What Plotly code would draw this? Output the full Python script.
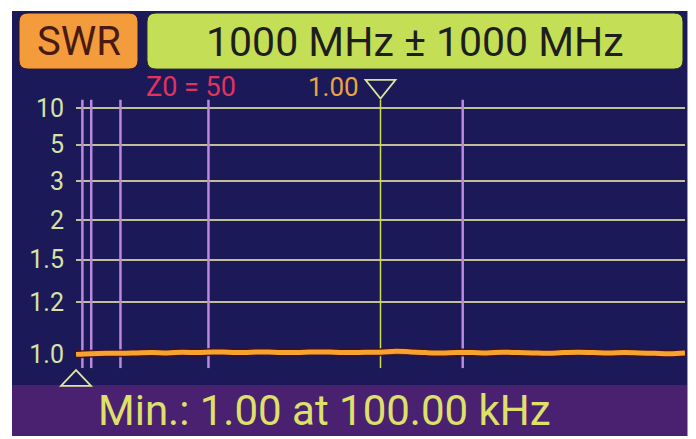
import numpy as np
import plotly.graph_objects as go

# ---------------- data ----------------
freq_mhz = [0.1, 50, 100, 150, 200, 250, 300, 350, 400, 450, 500, 550, 600, 650, 700,
            750, 800, 850, 900, 950, 1000, 1050, 1100, 1150, 1200, 1250, 1300, 1350,
            1400, 1450, 1500, 1550, 1600, 1650, 1700, 1750, 1800, 1850, 1900, 1950, 2000]
swr = [1.000, 1.002, 1.003, 1.003, 1.004, 1.005, 1.004, 1.006, 1.005, 1.007, 1.006,
       1.005, 1.007, 1.006, 1.005, 1.006, 1.007, 1.006, 1.005, 1.006, 1.006, 1.009,
       1.007, 1.005, 1.004, 1.005, 1.005, 1.004, 1.006, 1.005, 1.004, 1.003, 1.005,
       1.006, 1.005, 1.004, 1.005, 1.004, 1.003, 1.002, 1.004]
swr_ticks = [1.0, 1.2, 1.5, 2, 3, 5, 10]
swr_tick_labels = ["1.0", "1.2", "1.5", "2", "3", "5", "10"]
band_lines_mhz = [21, 50, 146, 435, 1270]
marker_freq = 1000
marker_label = "1.00"
min_freq = 0.1
center_span = "1000 MHz ± 1000 MHz"
status_text = "Min.: 1.00 at 100.00 kHz"
mode_text = "SWR"
z0_text = "Z0 = 50"

# ---------------- scale ----------------
def swr_scale(s):
    s = np.asarray(s, dtype=float)
    return np.log(1 + 3 * np.log(s))

# the page body has an 8px margin; lay out in page pixels and offset
OFF = 8
W, H = 696 - OFF, 439 - OFF
def px(x): return (x - OFF) / W
def py(y): return 1 - (y - OFF) / H

def rpath(x0, y0, x1, y1, r):
    pts = [("M", x0 + r, y0), ("L", x1 - r, y0), ("Q", x1, y0, x1, y0 + r),
           ("L", x1, y1 - r), ("Q", x1, y1, x1 - r, y1), ("L", x0 + r, y1),
           ("Q", x0, y1, x0, y1 - r), ("L", x0, y0 + r), ("Q", x0, y0, x0 + r, y0)]
    out = []
    for p in pts:
        s = p[0]
        c = p[1:]
        for i in range(0, len(c), 2):
            s += f" {px(c[i]):.5f},{py(c[i+1]):.5f}"
        out.append(s)
    return " ".join(out) + " Z"

NAVY = "#1b1957"
PURPLE = "#4a2170"
GREEN = "#c4de56"
ORANGE_BOX = "#f49c3c"
GRID = "#c2bf98"
BAND = "#bb8ade"
MARK = "#cfdc52"
TICKC = "#d6e2a6"
LINE = "#f7a330"

yr0, yr1 = -0.1157, 2.140
xr0, xr1 = 0, 2000
XD0, XD1 = px(76), px(685)

def fx_paper(f):
    return XD0 + (f - xr0) / (xr1 - xr0) * (XD1 - XD0)

fig = go.Figure()

# band lines
bx, by = [], []
for f in band_lines_mhz:
    bx += [f, f, None]
    by += [yr0, yr1, None]
fig.add_trace(go.Scatter(x=bx, y=by, mode="lines", line=dict(color=BAND, width=2.5),
                         hoverinfo="skip", showlegend=False))
# marker line
fig.add_trace(go.Scatter(x=[marker_freq, marker_freq], y=[yr0, yr1], mode="lines",
                         line=dict(color=MARK, width=1.5), hoverinfo="skip", showlegend=False))
# shadow + trace
fig.add_trace(go.Scatter(x=freq_mhz, y=swr_scale(swr), mode="lines",
                         line=dict(color="rgba(70,15,30,0.9)", width=8, shape="spline"),
                         hoverinfo="skip", showlegend=False))
fig.add_trace(go.Scatter(x=freq_mhz, y=swr_scale(swr), mode="lines",
                         line=dict(color=LINE, width=5, shape="spline"),
                         showlegend=False))

shapes = []
shapes.append(dict(type="rect", xref="paper", yref="paper", x0=px(12), x1=px(687),
                   y0=py(437), y1=py(5), fillcolor=NAVY, line=dict(width=0), layer="below"))
shapes.append(dict(type="rect", xref="paper", yref="paper", x0=px(687), x1=px(692),
                   y0=py(437), y1=py(5), fillcolor="#9a9aa0", line=dict(width=0), layer="below"))
shapes.append(dict(type="path", xref="paper", yref="paper", path=rpath(19, 7, 138, 64, 9),
                   fillcolor=ORANGE_BOX, line=dict(color="#2a1a30", width=1), layer="below"))
shapes.append(dict(type="path", xref="paper", yref="paper", path=rpath(147, 7, 683, 64, 9),
                   fillcolor=GREEN, line=dict(color="#2a2a30", width=1), layer="below"))
shapes.append(dict(type="rect", xref="paper", yref="paper", x0=px(12), x1=px(687),
                   y0=py(437), y1=py(385), fillcolor=PURPLE, line=dict(width=0), layer="below"))

hw = 15 / W
mx = fx_paper(marker_freq)
shapes.append(dict(type="path", xref="paper", yref="paper",
                   path=f"M {mx-hw:.5f},{py(75):.5f} L {mx+hw:.5f},{py(75):.5f} L {mx:.5f},{py(94):.5f} Z",
                   fillcolor=NAVY, line=dict(color="#d8e4a0", width=1.8), layer="above"))
nx = fx_paper(min_freq)
shapes.append(dict(type="path", xref="paper", yref="paper",
                   path=f"M {nx-hw:.5f},{py(386):.5f} L {nx+hw:.5f},{py(386):.5f} L {nx:.5f},{py(370):.5f} Z",
                   fillcolor=NAVY, line=dict(color="#e0e4a0", width=1.8), layer="above"))

annotations = [
    dict(text=mode_text, x=px(78.5), y=py(36), xref="paper", yref="paper", showarrow=False,
         xanchor="center", yanchor="middle", font=dict(family="Roboto", size=40, color="#4a1a12")),
    dict(text=center_span, x=px(415), y=py(36), xref="paper", yref="paper", showarrow=False,
         xanchor="center", yanchor="middle", font=dict(family="Roboto", size=41, color="#1e1e1e")),
    dict(text=z0_text, x=px(191), y=py(82), xref="paper", yref="paper", showarrow=False,
         xanchor="center", yanchor="middle", font=dict(family="Roboto", size=27, color="#e0335e")),
    dict(text=marker_label, x=mx, y=py(82), xref="paper", yref="paper", showarrow=False,
         xanchor="right", yanchor="middle", xshift=-20,
         font=dict(family="Roboto", size=26, color="#e9a544")),
    dict(text=status_text, x=px(96), y=py(411), xref="paper", yref="paper", showarrow=False,
         xanchor="left", yanchor="middle", font=dict(family="Roboto", size=42, color="#dfe06a")),
]

fig.update_layout(
    width=W, height=H, margin=dict(l=0, r=0, t=0, b=0),
    paper_bgcolor="white", plot_bgcolor="rgba(0,0,0,0)",
    shapes=shapes, annotations=annotations, showlegend=False,
    xaxis=dict(domain=[XD0, XD1], range=[xr0, xr1], showgrid=False, zeroline=False,
               showticklabels=False, ticks="", showline=False),
    yaxis=dict(domain=[py(368), py(95)], range=[yr0, yr1], tickmode="array",
               tickvals=list(swr_scale(swr_ticks)), ticktext=swr_tick_labels,
               showgrid=True, gridcolor=GRID, gridwidth=2, zeroline=False, showline=False,
               ticks="", ticklabelstandoff=11,
               tickfont=dict(family="Roboto", size=25, color=TICKC)),
)

fig.write_html("out.html")
